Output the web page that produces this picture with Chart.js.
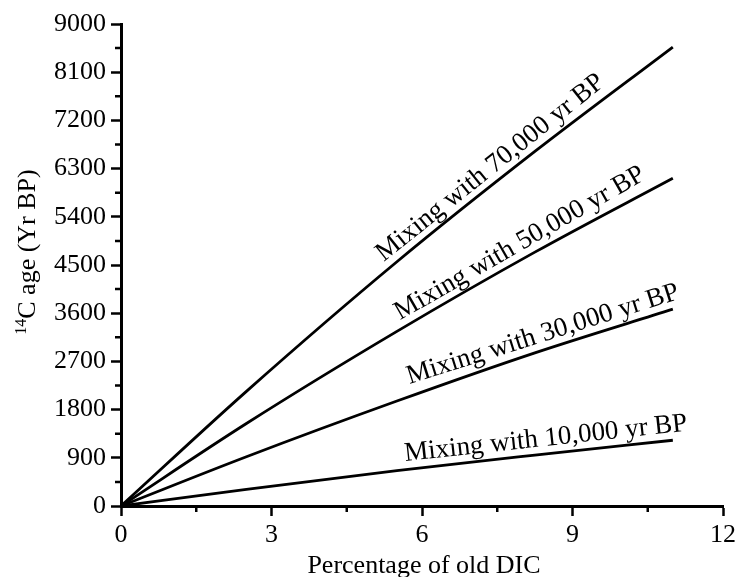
<!DOCTYPE html>
<html>
<head>
<meta charset="utf-8">
<script src="https://cdn.jsdelivr.net/npm/chart.js@4.4.1/dist/chart.umd.min.js"></script>
<style>
  body { margin: 0; background: #fff; }
</style>
</head>
<body>
<canvas id="myChart" width="736" height="577"></canvas>
<script>
// percentage of old DIC (x) and 14C age in yr BP (y)
var percentOld = [0, 2.5, 5.5, 8.25, 11];
var mix70000 = [0, 2140, 4560, 6620, 8570];
var mix50000 = [0, 1540, 3260, 4740, 6120];
var mix30000 = [0, 920, 1960, 2860, 3675];
var mix10000 = [0, 310, 660, 950, 1228];
var seriesNames = [
  "Mixing with 70,000 yr BP",
  "Mixing with 50,000 yr BP",
  "Mixing with 30,000 yr BP",
  "Mixing with 10,000 yr BP",
];
// x value where each line label sits
var labelAt = [7.55, 8.1, 8.5, 8.5];

var serif = "'Liberation Serif', 'Times New Roman', serif";

function toPoints(ys) {
  return percentOld.map(function (x, i) {
    return { x: x, y: ys[i] };
  });
}

var seriesData = [mix70000, mix50000, mix30000, mix10000];

// small outward ticks halfway between the labelled ones, plus axis titles
var minorTicks = {
  id: "minorTicks",
  afterDraw: function (chart) {
    var c = chart.ctx;
    var xs = chart.scales.x;
    var ys = chart.scales.y;
    c.save();
    c.strokeStyle = "#000";
    c.lineWidth = 2.5;
    c.beginPath();
    for (var v = 1.5; v < 12; v += 3) {
      var px = xs.getPixelForValue(v);
      c.moveTo(px, ys.bottom);
      c.lineTo(px, ys.bottom + 6);
    }
    for (var w = 450; w < 9000; w += 900) {
      var py = ys.getPixelForValue(w);
      c.moveTo(xs.left, py);
      c.lineTo(xs.left - 6, py);
    }
    c.stroke();

    c.fillStyle = "#000";
    c.font = "26px " + serif;
    c.textAlign = "center";
    c.textBaseline = "alphabetic";
    c.fillText("Percentage of old DIC", 424, 573);

    c.translate(28, 252);
    c.rotate(-Math.PI / 2);
    c.textBaseline = "middle";
    c.textAlign = "left";
    c.font = "16px " + serif;
    var supW = c.measureText("14").width;
    c.font = "26px " + serif;
    var mainW = c.measureText("C age (Yr BP)").width;
    var start = -(supW + mainW) / 2;
    c.font = "16px " + serif;
    c.fillText("14", start, -6);
    c.font = "26px " + serif;
    c.fillText("C age (Yr BP)", start + supW, 0);
    c.restore();
  },
};

// text along each line
var lineLabels = {
  id: "lineLabels",
  afterDatasetsDraw: function (chart) {
    var c = chart.ctx;
    var xs = chart.scales.x;
    c.save();
    c.fillStyle = "#000";
    c.font = "27px " + serif;
    c.textAlign = "center";
    c.textBaseline = "alphabetic";
    chart.data.datasets.forEach(function (ds, i) {
      var pts = chart.getDatasetMeta(i).data;
      var px = xs.getPixelForValue(labelAt[i]);
      var k = 1;
      while (k < pts.length - 1 && pts[k].x < px) k++;
      var a = pts[k - 1], b = pts[k];
      var t = (px - a.x) / (b.x - a.x);
      var py = a.y + t * (b.y - a.y);
      var ang = Math.atan2(b.y - a.y, b.x - a.x);
      c.save();
      c.translate(px, py);
      c.rotate(ang);
      c.fillText(seriesNames[i], 0, -8);
      c.restore();
    });
    c.restore();
  },
};

var ctx = document.getElementById("myChart");
var myChart = new Chart(ctx, {
  type: "line",
  data: {
    datasets: seriesData.map(function (ys, i) {
      return {
        label: seriesNames[i],
        data: toPoints(ys),
        borderColor: "#000",
        borderWidth: 2.8,
        pointRadius: 0,
        cubicInterpolationMode: "monotone",
        fill: false,
      };
    }),
  },
  options: {
    responsive: false,
    animation: false,
    layout: {
      padding: { top: 24, right: 13, left: 0, bottom: 0 },
    },
    plugins: {
      legend: { display: false },
      tooltip: { enabled: false },
    },
    scales: {
      x: {
        type: "linear",
        min: 0,
        max: 12,
        ticks: {
          stepSize: 3,
          color: "#000",
          font: { family: serif, size: 26 },
          padding: 4,
          maxRotation: 0,
          callback: function (v) { return String(v); },
        },
        grid: {
          drawOnChartArea: false,
          drawTicks: true,
          tickLength: 10,
          tickWidth: 2.5,
          tickColor: "#000",
        },
        border: { color: "#000", width: 3 },
        afterFit: function (scale) {
          scale.height = 71;
          scale.paddingLeft = 0;
          scale.paddingRight = 0;
        },
      },
      y: {
        min: 0,
        max: 9000,
        ticks: {
          stepSize: 900,
          color: "#000",
          font: { family: serif, size: 26 },
          padding: 5,
          callback: function (v) { return String(v); },
        },
        grid: {
          drawOnChartArea: false,
          drawTicks: true,
          tickLength: 10,
          tickWidth: 2.5,
          tickColor: "#000",
        },
        border: { color: "#000", width: 3 },
        afterFit: function (scale) {
          scale.width = 121;
          scale.paddingTop = 0;
          scale.paddingBottom = 0;
        },
      },
    },
  },
  plugins: [minorTicks, lineLabels],
});
</script>
</body>
</html>
